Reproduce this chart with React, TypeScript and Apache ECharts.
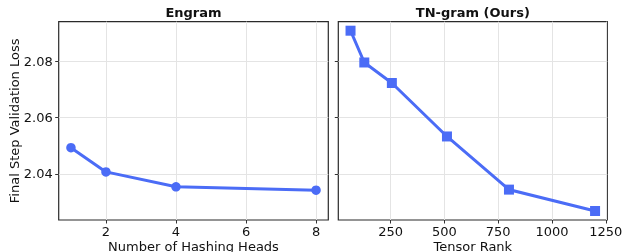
import React, { useEffect, useRef } from "react";
import * as echarts from "echarts";

const headsX = [1, 2, 4, 8];
const headsLoss = [2.0493, 2.0407, 2.0354, 2.0342];
const rankX = [64, 128, 256, 512, 800, 1200];
const rankLoss = [2.0909, 2.0796, 2.0723, 2.0533, 2.0344, 2.0268];
const yTicks = [2.04, 2.06, 2.08];
const headsTicks = [2, 4, 6, 8];
const rankTicks = [250, 500, 750, 1000, 1250];

const FONT = "DejaVu Sans";
const BLUE = "#4B6CF6";
const TXT = "#111";

export default function App() {
  const ref = useRef<HTMLDivElement>(null);
  useEffect(() => {
    if (!ref.current) return;
    const chart = echarts.init(ref.current, undefined, { renderer: "svg" });
    const yMin = 2.0236, yMax = 2.0941;
    const common = {
      axisLine: { show: false },
      axisTick: { show: true, inside: false, length: 3.5, lineStyle: { color: "#333", width: 1 } },
      splitLine: { show: true, lineStyle: { color: "#e4e4e4", width: 1 } },
    };
    const labelStyle = { color: TXT, fontFamily: FONT, fontSize: 13 };
    chart.setOption({
      animation: false,
      graphic: [
        { type: "text", x: 193.5, y: 12.2, style: { text: "Engram", fontFamily: FONT, fontSize: 13, fontWeight: "bold", fill: TXT, textAlign: "center", textVerticalAlign: "middle" } },
        { type: "text", x: 472.8, y: 12.2, style: { text: "TN-gram (Ours)", fontFamily: FONT, fontSize: 13, fontWeight: "bold", fill: TXT, textAlign: "center", textVerticalAlign: "middle" } },
      ],
      grid: [
        { left: 58.7, top: 21.7, width: 269.6, height: 198.3, outerBoundsMode: "none", containLabel: false, show: true, borderColor: "#2a2a2a", borderWidth: 1.2, backgroundColor: "transparent" },
        { left: 338.3, top: 21.7, width: 269, height: 198.3, outerBoundsMode: "none", containLabel: false, show: true, borderColor: "#2a2a2a", borderWidth: 1.2, backgroundColor: "transparent" },
      ],
      xAxis: [
        {
          type: "value", gridIndex: 0, min: 0.65, max: 8.35, ...common,
          axisTick: { ...common.axisTick, customValues: headsTicks },
          axisLabel: { ...labelStyle, margin: 5, customValues: headsTicks, formatter: (v: number) => String(v) },
          name: "Number of Hashing Heads", nameLocation: "middle", nameGap: 20, nameMoveOverlap: false, nameTextStyle: labelStyle,
        },
        {
          type: "value", gridIndex: 1, min: 7.2, max: 1256.8, ...common,
          axisTick: { ...common.axisTick, customValues: rankTicks },
          axisLabel: { ...labelStyle, margin: 5, customValues: rankTicks, formatter: (v: number) => String(v) },
          name: "Tensor Rank", nameLocation: "middle", nameGap: 20, nameMoveOverlap: false, nameTextStyle: labelStyle,
        },
      ],
      yAxis: [
        {
          type: "value", gridIndex: 0, min: yMin, max: yMax, ...common,
          axisTick: { ...common.axisTick, customValues: yTicks },
          axisLabel: { ...labelStyle, margin: 6, customValues: yTicks, formatter: (v: number) => v.toFixed(2) },
          name: "Final Step Validation Loss", nameLocation: "middle", nameGap: 38, nameMoveOverlap: false, nameTextStyle: labelStyle,
        },
        {
          type: "value", gridIndex: 1, min: yMin, max: yMax, ...common,
          axisTick: { ...common.axisTick, customValues: yTicks },
          axisLabel: { show: false, customValues: yTicks },
        },
      ],
      series: [
        {
          type: "line", xAxisIndex: 0, yAxisIndex: 0,
          data: headsX.map((x, i) => [x, headsLoss[i]]),
          symbol: "circle", symbolSize: 9.5, showSymbol: true,
          lineStyle: { color: BLUE, width: 3 }, itemStyle: { color: BLUE },
        },
        {
          type: "line", xAxisIndex: 1, yAxisIndex: 1,
          data: rankX.map((x, i) => [x, rankLoss[i]]),
          symbol: "rect", symbolSize: 10, showSymbol: true,
          lineStyle: { color: BLUE, width: 3 }, itemStyle: { color: BLUE },
        },
      ],
    });
    return () => chart.dispose();
  }, []);
  return <div ref={ref} style={{ position: "fixed", left: 0, top: 0, width: 622, height: 252 }} />;
}
